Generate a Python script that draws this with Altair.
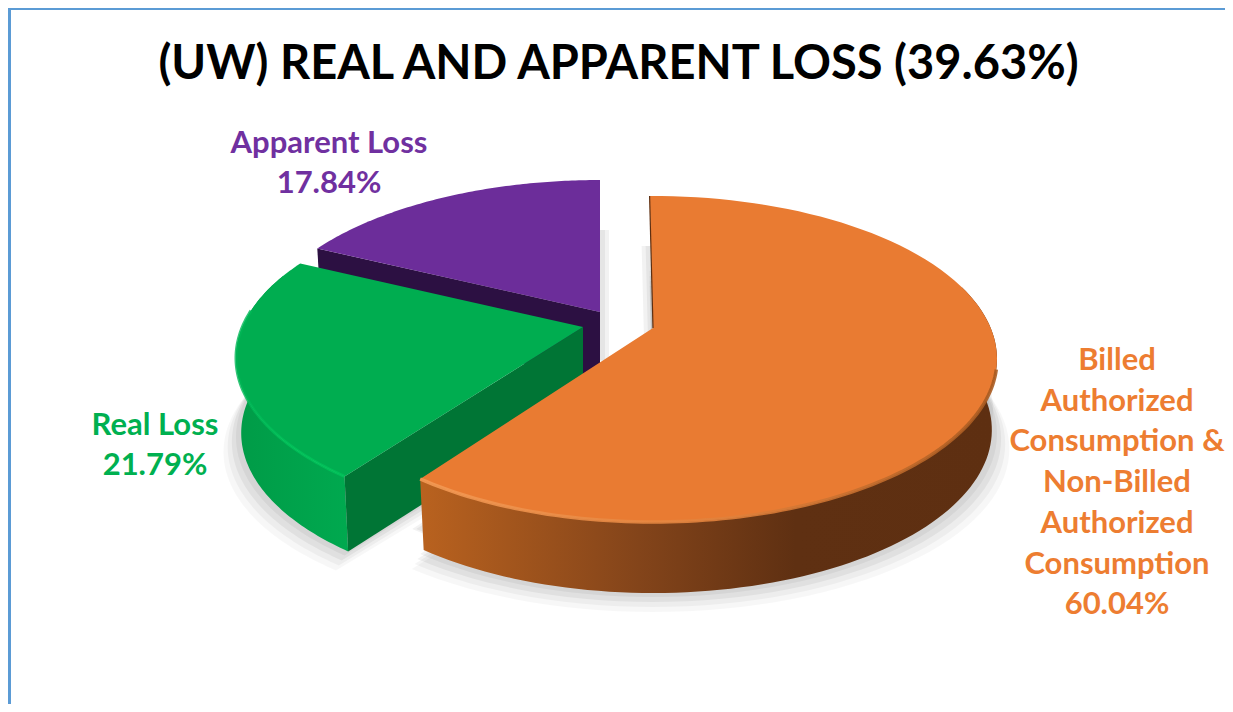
import math
import altair as alt
import pandas as pd

# ---- data ----
TITLE = "(UW) REAL AND APPARENT LOSS (39.63%)"
CATEGORIES = ["Billed Authorized Consumption & Non-Billed Authorized Consumption", "Real Loss", "Apparent Loss"]
SHARES = [60.04, 21.79, 17.84]
LABEL_LINES = [
    ["Billed", "Authorized", "Consumption &", "Non-Billed", "Authorized", "Consumption", "60.04%"],
    ["Real Loss", "21.79%"],
    ["Apparent Loss", "17.84%"],
]

# ---- styles and geometry of the tilted pie ----
LABEL_COLORS = ["#ed7d31", "#00b050", "#7030a0"]
TOP_COLORS = ["#e97b32", "#00ad50", "#6c2d9a"]
CENTERS = [(653, 359), (583, 358), (600, 343)]
RXS = [344, 347, 347]
RY, P = 163, 0.19
DEPTHS = [71, 75, 69]
SHRINK = 0.985
TURNS = [-0.7, 0, 0]
LABEL_POS = [(1117, 361), (155, 426), (329, 144)]
LINE_H = [40.7, 40, 40]

X = alt.X("x:Q", scale=alt.Scale(domain=[8, 1225]), axis=None)
Y = alt.Y("y:Q", scale=alt.Scale(domain=[704, 8]), axis=None)


def ray_point(i, deg):
    th = math.radians(deg + TURNS[i])
    s, c = math.sin(th), math.cos(th)
    r = -P * c + math.sqrt(1 - P * P * s * s)
    cx, cy = CENTERS[i]
    return cx + RXS[i] * r * s, cy - RY * (P + r * c)


def arc(i, a, b, n=90):
    return [ray_point(i, a + (b - a) * k / n) for k in range(n + 1)]


def apex(i):
    cx, cy = CENTERS[i]
    return cx, cy - RY * P


def lower(i, pts, dy=None, sh=SHRINK, dx=0):
    cx, _ = CENTERS[i]
    d = DEPTHS[i] if dy is None else dy
    return [(cx + (x - cx) * sh + dx, y + d) for x, y in pts]


def frame(pts):
    return pd.DataFrame({"x": [p[0] for p in pts], "y": [p[1] for p in pts], "o": range(len(pts))})


def poly(pts, fill, opacity=1.0):
    return alt.Chart(frame(pts)).mark_line(
        interpolate="linear-closed", fill=fill, stroke=None, strokeWidth=0, opacity=opacity
    ).encode(x=X, y=Y, order="o:Q")


def stroke(pts, color, width, opacity=1.0):
    return alt.Chart(frame(pts)).mark_line(
        stroke=color, strokeWidth=width, opacity=opacity, strokeCap="butt"
    ).encode(x=X, y=Y, order="o:Q")


def grad(*stops):
    return alt.LinearGradient(
        gradient="linear", x1=0, x2=1, y1=0, y2=0,
        stops=[alt.GradientStop(offset=o, color=c) for o, c in stops],
    )


total = sum(SHARES)
bounds = [0]
for v in SHARES:
    bounds.append(bounds[-1] + v / total * 360)
A = [(bounds[i], bounds[i + 1]) for i in range(3)]

layers = []

# soft shadows
for i in range(3):
    face = [apex(i)] + arc(i, *A[i])
    for dy, sh, op in [(DEPTHS[i] + 4, 1.0, 0.05), (DEPTHS[i] + 9, 1.012, 0.05), (DEPTHS[i] + 14, 1.024, 0.04), (DEPTHS[i] + 19, 1.036, 0.03)]:
        layers.append(poly(lower(i, face, dy, sh), "#000000", op))
for i, shifts in [(2, (5, 9)), (0, (-4, -8))]:
    face = [apex(i)] + arc(i, *A[i])
    for dx in shifts:
        layers.append(poly(lower(i, face, 50, 1.0, dx), "#000000", 0.05))

# purple slice
tip = ray_point(2, A[2][0])
layers.append(poly([apex(2), tip] + lower(2, [tip, apex(2)]), "#2c1042"))
layers.append(poly([apex(2)] + arc(2, *A[2]), TOP_COLORS[2]))

# green slice
outer = arc(1, A[1][0], 290)
layers.append(poly(outer + lower(1, outer)[::-1], grad((0, "#009b47"), (1, "#00a94f"))))
tip = ray_point(1, A[1][0])
layers.append(poly([apex(1), tip] + lower(1, [tip, apex(1)]), "#007535"))
layers.append(poly([apex(1)] + arc(1, *A[1]), TOP_COLORS[1]))
layers.append(stroke(arc(1, A[1][0], 276), grad((0, "#00b555"), (0.5, "#00c45a"), (1, "#00c45a")), 3, 0.8))

# orange slice
outer = arc(0, 75, A[0][1])
layers.append(poly(outer + lower(0, outer)[::-1], grad((0, "#b9621f"), (0.38, "#83441a"), (0.65, "#5f3012"), (1, "#5e2f11"))))
layers.append(poly([apex(0)] + arc(0, *A[0]), TOP_COLORS[0]))
layers.append(stroke(arc(0, 105, A[0][1]), grad((0, "#f49a55"), (0.55, "#e0803a"), (1, "#a85a20")), 3.5, 0.9))
layers.append(stroke([ray_point(0, 0), apex(0)], "#5e2f11", 1.2))

# labels
for lines, (lx, ly), color, lh in zip(LABEL_LINES, LABEL_POS, LABEL_COLORS, LINE_H):
    df = pd.DataFrame({"x": lx, "y": [ly + lh * k for k in range(len(lines))], "t": lines})
    layers.append(
        alt.Chart(df).mark_text(font="Lato", fontWeight="bold", fontSize=31, color=color, align="center", baseline="middle")
        .encode(x=X, y=Y, text="t:N")
    )

# frame of the picture
frame_left = alt.Chart(pd.DataFrame({"x": [9.5, 9.5], "y": [8, 704]})).mark_line(stroke="#5b9bd5", strokeWidth=3).encode(x=X, y=Y)
frame_top = alt.Chart(pd.DataFrame({"x": [8, 1225], "y": [9, 9]})).mark_line(stroke="#5b9bd5", strokeWidth=2).encode(x=X, y=Y)
layers += [frame_left, frame_top]

chart = alt.layer(*layers).properties(
    width=1217,
    height=696,
    padding=0,
    autosize=alt.AutoSizeParams(type="none"),
    background="white",
    title=alt.TitleParams(
        TITLE, font="Lato", fontSize=47, fontWeight="bold", color="#000000",
        anchor="middle", orient="top", offset=-87, dx=2,
    ),
).configure_view(stroke=None)

chart.save("out.html", embed_options={"renderer": "svg", "actions": False})
